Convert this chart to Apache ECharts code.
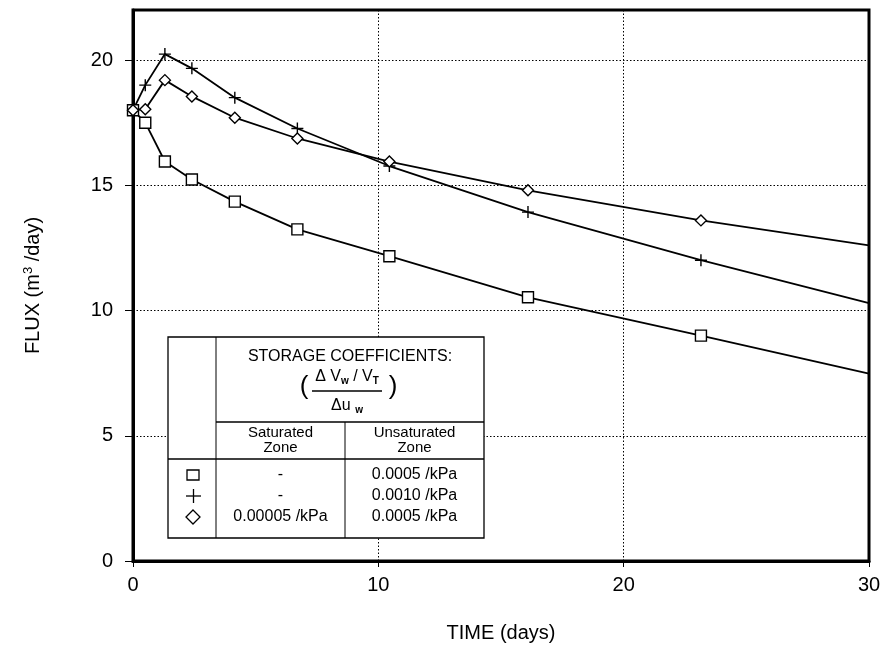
<!DOCTYPE html>
<html>
<head>
<meta charset="utf-8">
<script src="https://cdn.jsdelivr.net/npm/echarts@6/dist/echarts.min.js"></script>
<style>
  html, body { margin: 0; padding: 0; background: #fff; }
  #myChart { width: 891px; height: 650px; }
</style>
</head>
<body>
<div id="myChart"></div>
<script>
// time (days) of each computed point; last one is the curve end at 30
var days = [0, 0.5, 1.3, 2.4, 4.15, 6.7, 10.45, 16.1, 23.15, 30];
// flux (m3/day) per storage-coefficient case
var fluxSquare = [18, 17.5, 15.95, 15.23, 14.35, 13.24, 12.17, 10.53, 9.0, 7.48];
var fluxPlus = [18, 19.0, 20.24, 19.67, 18.5, 17.27, 15.77, 13.93, 12.01, 10.3];
var fluxDiamond = [18, 18.04, 19.2, 18.55, 17.7, 16.87, 15.95, 14.8, 13.6, 12.6];

var xTicks = [0, 10, 20, 30];
var yTicks = [0, 5, 10, 15, 20];

// table legend text
var tableTitle = "STORAGE COEFFICIENTS:";
var zoneHeaders = [["Saturated", "Zone"], ["Unsaturated", "Zone"]];
var saturatedValues = ["-", "-", "0.00005 /kPa"];
var unsaturatedValues = ["0.0005 /kPa", "0.0010 /kPa", "0.0005 /kPa"];

var FONT = '"Liberation Sans", Arial, sans-serif';
var plusPath = 'path://M5,0L5,10M0,5L10,5';

function pairs(ys) {
  return days.map(function (d, i) {
    var item = { value: [d, ys[i]] };
    if (i === days.length - 1) item.symbol = 'none';
    return item;
  });
}

function lineSeries(name, ys, symbol, size) {
  return {
    name: name,
    type: 'line',
    data: pairs(ys),
    symbol: symbol,
    symbolSize: size,
    showAllSymbol: true,
    lineStyle: { color: '#000', width: 1.8 },
    itemStyle: { color: '#fff', borderColor: '#000', borderWidth: 1.4 },
    z: 3
  };
}

// table graphic
function txt(s, x, y, size) {
  return {
    type: 'text',
    z: 100,
    style: {
      text: s, x: x, y: y,
      font: (size || 15) + 'px ' + FONT,
      fill: '#000',
      align: 'center', verticalAlign: 'middle',
      textAlign: 'center', textVerticalAlign: 'middle'
    }
  };
}
function seg(x1, y1, x2, y2, w) {
  return {
    type: 'line', z: 100,
    shape: { x1: x1, y1: y1, x2: x2, y2: y2 },
    style: { stroke: '#000', lineWidth: w || 1 }
  };
}

var L = 168, R = 484, T = 337, B = 538, C1 = 216, C2 = 345, H1 = 422, H2 = 459;
var rowY = [475, 496, 517];
var subRich = { s: { fontSize: 10, fontWeight: 'bold', fontFamily: 'Liberation Sans', verticalAlign: 'bottom', padding: [9, 0, 0, 0] } };
var graphics = [
  { type: 'rect', z: 99, shape: { x: L, y: T, width: R - L, height: B - T },
    style: { fill: '#fff', stroke: '#000', lineWidth: 1.3 } },
  seg(C1, T, C1, B),
  seg(C1, H1, R, H1, 1.3),
  seg(L, H2, R, H2, 1.3),
  seg(C2, H1, C2, B),
  txt(tableTitle, (C1 + R) / 2, 357, 16),
  {
    type: 'text', z: 100,
    style: {
      text: 'Δ V{s|w} / V{s|T}', x: 347, y: 377,
      font: '16px ' + FONT, fill: '#000',
      align: 'center', verticalAlign: 'middle',
      textAlign: 'center', textVerticalAlign: 'middle',
      rich: subRich
    }
  },
  seg(312, 391, 382, 391, 1.3),
  {
    type: 'text', z: 100,
    style: {
      text: 'Δu {s|w}', x: 347, y: 406,
      font: '16px ' + FONT, fill: '#000',
      align: 'center', verticalAlign: 'middle',
      textAlign: 'center', textVerticalAlign: 'middle',
      rich: subRich
    }
  },
  txt('(', 304, 387, 26),
  txt(')', 393, 387, 26),
  // symbols
  { type: 'rect', z: 100, shape: { x: 187, y: rowY[0] - 5, width: 12, height: 10 },
    style: { fill: '#fff', stroke: '#000', lineWidth: 1.3 } },
  seg(186, rowY[1], 201, rowY[1], 1.3),
  seg(193.5, rowY[1] - 7, 193.5, rowY[1] + 7, 1.3),
  { type: 'polygon', z: 100,
    shape: { points: [[193, rowY[2] - 7], [200, rowY[2]], [193, rowY[2] + 7], [186, rowY[2]]] },
    style: { fill: '#fff', stroke: '#000', lineWidth: 1.3 } }
];
zoneHeaders.forEach(function (h, k) {
  var cx = k === 0 ? (C1 + C2) / 2 : (C2 + R) / 2;
  graphics.push(txt(h[0], cx, 433, 15));
  graphics.push(txt(h[1], cx, 448, 15));
});
rowY.forEach(function (y, i) {
  graphics.push(txt(saturatedValues[i], (C1 + C2) / 2, y, 16));
  graphics.push(txt(unsaturatedValues[i], (C2 + R) / 2, y, 16));
});

var myChart = echarts.init(document.getElementById('myChart'));
myChart.setOption({
  backgroundColor: '#fff',
  animation: false,
  grid: {
    left: 133, right: 22, top: 10, bottom: 89,
    show: true, borderColor: '#000', borderWidth: 3, backgroundColor: 'transparent'
  },
  xAxis: {
    type: 'value', min: 0, max: 30, interval: 10,
    name: 'TIME (days)', nameLocation: 'middle', nameGap: 62,
    nameTextStyle: { fontFamily: FONT, fontSize: 20, color: '#000' },
    axisLine: { lineStyle: { color: '#000', width: 3 } },
    axisTick: { show: true, length: 6, lineStyle: { color: '#000', width: 1 } },
    axisLabel: { margin: 14, fontFamily: FONT, fontSize: 20, color: '#000', customValues: xTicks },
    splitLine: { show: true, lineStyle: { color: '#000', width: 1, type: [1.5, 2] } }
  },
  yAxis: {
    type: 'value', min: 0, max: 22, interval: 5,
    name: 'FLUX (m{sup|3} /day)', nameLocation: 'middle', nameGap: 88, nameRotate: 90,
    nameTextStyle: {
      fontFamily: FONT, fontSize: 20, color: '#000',
      rich: { sup: { fontFamily: FONT, fontSize: 13, color: '#000', verticalAlign: 'top', padding: [0, 0, 10, 0] } }
    },
    axisLine: { lineStyle: { color: '#000', width: 3 } },
    axisTick: { show: true, length: 8, lineStyle: { color: '#000', width: 1 }, customValues: yTicks },
    axisLabel: { margin: 20, fontFamily: FONT, fontSize: 20, color: '#000', customValues: yTicks },
    splitLine: { show: true, lineStyle: { color: '#000', width: 1, type: [1.5, 2] } }
  },
  series: [
    lineSeries('square', fluxSquare, 'rect', 11),
    lineSeries('plus', fluxPlus, plusPath, 12),
    lineSeries('diamond', fluxDiamond, 'diamond', 11)
  ],
  graphic: graphics
});
</script>
</body>
</html>
